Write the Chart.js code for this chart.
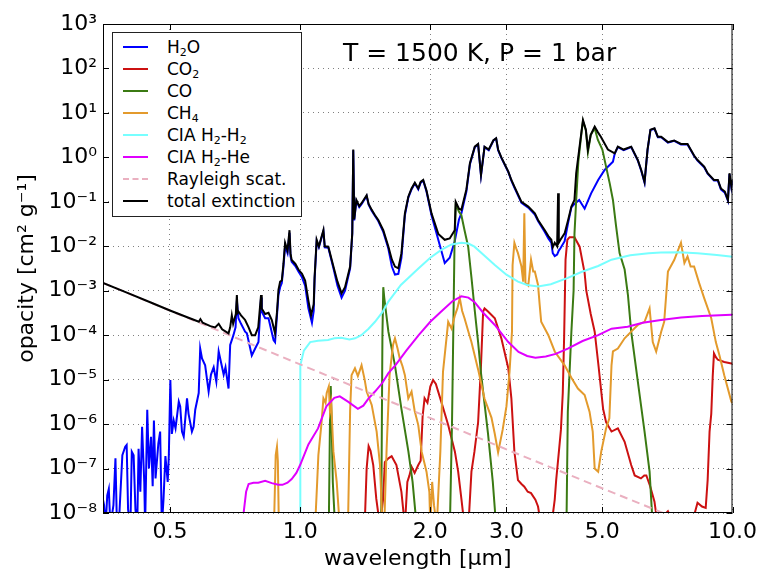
<!DOCTYPE html>
<html>
<head>
<meta charset="utf-8">
<script src="https://cdn.jsdelivr.net/npm/chart.js@4.4.1/dist/chart.umd.min.js"></script>
<style>
body { margin: 0; background: #fff; }
#wrap { position: relative; width: 763px; height: 573px; font-family: "DejaVu Sans", sans-serif; }
#legend { position: absolute; left: 112px; top: 32px; width: 190px; height: 185px; border: 1px solid #222; background: #fff; box-sizing: border-box; }
.row { position: absolute; left: 0; height: 22px; line-height: 22px; font-size: 17px; color: #000; }
.row i { position: absolute; left: 10px; top: 10px; width: 25px; height: 0; border-top: 2px solid; }
.row span { position: absolute; left: 54px; white-space: nowrap; }
sub { font-size: 11px; vertical-align: -3px; line-height: 0; }
#note { position: absolute; left: 343px; top: 38px; font-size: 25px; line-height: 30px; white-space: nowrap; color: #000; }
</style>
</head>
<body>
<div id="wrap">
  <canvas id="c" width="763" height="573"></canvas>
  <div id="legend">
    <div class="row" style="top:3px"><i style="border-color:#0000ff"></i><span>H<sub>2</sub>O</span></div>
    <div class="row" style="top:25px"><i style="border-color:#cc1111"></i><span>CO<sub>2</sub></span></div>
    <div class="row" style="top:47px"><i style="border-color:#3b7a13"></i><span>CO</span></div>
    <div class="row" style="top:69px"><i style="border-color:#e39a2c"></i><span>CH<sub>4</sub></span></div>
    <div class="row" style="top:91px"><i style="border-color:#77ffff"></i><span>CIA H<sub>2</sub>-H<sub>2</sub></span></div>
    <div class="row" style="top:113px"><i style="border-color:#e000ff"></i><span>CIA H<sub>2</sub>-He</span></div>
    <div class="row" style="top:135px"><i style="border-color:#eab0c0;border-top-style:dashed"></i><span>Rayleigh scat.</span></div>
    <div class="row" style="top:157px"><i style="border-color:#000"></i><span>total extinction</span></div>
  </div>
  <div id="note">T = 1500 K, P = 1 bar</div>
</div>
<script>
// wavelength [um], opacity [cm2/g]
var h2o = [[0.350,2e-8],[0.352,1.5e-8],[0.355,5e-9],[0.358,2.5e-8],[0.361,3.5e-8],[0.364,5e-9],[0.37,1.5e-8],[0.374,1.7e-7],[0.377,5e-9],[0.382,1e-8],[0.388,2e-7],[0.394,3.1e-7],[0.397,3.4e-7],[0.400,1.2e-8],[0.405,5e-9],[0.408,2.4e-7],[0.412,2e-7],[0.416,1.2e-8],[0.420,5e-9],[0.423,2.8e-7],[0.427,3e-8],[0.431,8.7e-7],[0.436,5e-8],[0.438,5e-9],[0.443,2.1e-6],[0.447,1e-7],[0.452,5.2e-7],[0.456,4e-8],[0.459,1.2e-6],[0.463,6e-8],[0.470,3.7e-7],[0.4745,6.8e-7],[0.4788,5e-9],[0.483,2e-8],[0.488,1.9e-7],[0.494,5e-8],[0.497,2e-7],[0.501,9.8e-6],[0.505,6e-7],[0.510,1.2e-6],[0.515,8e-7],[0.524,3.2e-6],[0.528,2.5e-6],[0.533,6.8e-7],[0.538,5.2e-7],[0.5475,3.8e-6],[0.552,1.7e-6],[0.562,6.8e-7],[0.567,8.7e-7],[0.572,2.1e-6],[0.5827,5e-6],[0.5873,5e-5],[0.593,3e-5],[0.603,2.1e-5],[0.6143,5.4e-6],[0.622,1.3e-5],[0.631,1.9e-5],[0.640,9e-6],[0.648,4.3e-5],[0.6655,1.3e-5],[0.672,1.9e-5],[0.683,6.3e-6],[0.689,6e-5],[0.701,1e-4],[0.709,1.5e-4],[0.714,6e-4],[0.720,2.4e-4],[0.730,1.8e-4],[0.746,1.2e-4],[0.753,1.1e-4],[0.773,3.5e-5],[0.787,5e-5],[0.801,7e-5],[0.812,7e-4],[0.815,3.4e-4],[0.83,2.4e-4],[0.845,2.4e-4],[0.868,7.8e-5],[0.875,7e-5],[0.884,2.8e-4],[0.891,8e-4],[0.899,1.2e-3],[0.907,1.5e-3],[0.915,3.5e-3],[0.923,1e-2],[0.935,7e-3],[0.945,2e-2],[0.95,6e-3],[0.956,4.5e-3],[0.975,3.6e-3],[0.991,2.7e-3],[1.01,2e-3],[1.027,1.3e-3],[1.045,4e-4],[1.065,1.9e-4],[1.075,3.5e-4],[1.08,1.8e-3],[1.092,1.3e-2],[1.105,9.5e-3],[1.132,2.2e-2],[1.14,9.5e-3],[1.162,9.3e-3],[1.194,3.2e-3],[1.22,1.3e-3],[1.247,7e-4],[1.27,1e-3],[1.305,3.2e-3],[1.32,1.9e-2],[1.327,1.45],[1.334,3.8e-2],[1.349,0.105],[1.37,0.076],[1.387,0.089],[1.425,0.135],[1.44,0.086],[1.464,0.063],[1.49,0.048],[1.516,0.037],[1.557,0.021],[1.599,9e-3],[1.63,3.5e-3],[1.657,2.3e-3],[1.687,2.4e-3],[1.715,5.5e-3],[1.747,5e-2],[1.779,0.125],[1.81,0.19],[1.842,0.26],[1.876,0.19],[1.9,0.27],[1.926,0.3],[1.96,0.17],[2.013,5e-2],[2.087,1.4e-2],[2.16,4.2e-3],[2.218,5.5e-3],[2.278,1.3e-2],[2.33,4e-2],[2.36,5.5e-2],[2.424,0.17],[2.47,0.7],[2.535,1.7],[2.58,1.95],[2.6,0.88],[2.62,0.39],[2.67,1.7],[2.73,1.45],[2.80,2.4],[2.84,2.65],[2.87,1.45],[2.92,0.97],[3.03,0.47],[3.08,0.3],[3.13,0.21],[3.25,0.095],[3.37,0.074],[3.49,0.052],[3.55,0.037],[3.68,0.021],[3.75,0.015],[3.81,0.012],[3.84,7e-3],[3.88,6e-3],[3.93,6.5e-3],[3.965,8e-3],[4.0,9e-3],[4.09,1.3e-2],[4.17,3.5e-2],[4.24,7.5e-2],[4.31,9e-2],[4.42,0.11],[4.55,0.07],[4.71,0.155],[4.89,0.31],[5.06,0.52],[5.29,0.8],[5.34,1.2],[5.43,1.7],[5.6,1.45],[5.83,1.7],[6.04,0.85],[6.15,0.5],[6.26,0.27],[6.36,1.45],[6.46,4.1],[6.6,4.4],[6.72,2.85],[6.84,2.85],[7.09,2.15],[7.33,2.35],[7.6,1.95],[7.87,1.95],[8.15,1.07],[8.3,0.85],[8.6,0.6],[8.76,0.43],[9.06,0.3],[9.25,0.3],[9.40,0.19],[9.6,0.16],[9.76,0.105],[9.84,0.42],[9.94,0.21],[10.0,0.3]];

var co2 = [[1.41,5e-9],[1.425,1e-7],[1.44,3.2e-7],[1.455,2.5e-7],[1.476,1.2e-7],[1.5,2.1e-8],[1.53,5e-9],[1.555,2e-8],[1.57,1.4e-7],[1.6,1.7e-7],[1.628,1.9e-7],[1.67,1.2e-7],[1.715,3e-8],[1.747,5e-9],[1.77,5e-8],[1.79,7e-8],[1.81,1.1e-7],[1.84,8e-8],[1.876,1.2e-7],[1.9,1.5e-7],[1.92,1.5e-6],[1.94,3.8e-6],[1.97,3e-6],[2.0,7e-6],[2.03,9.8e-6],[2.06,8e-6],[2.12,3.2e-6],[2.2,9.5e-7],[2.28,2.4e-7],[2.32,8.5e-8],[2.36,2.1e-8],[2.40,5e-9],[2.45,5e-9],[2.49,8.5e-8],[2.53,2.4e-7],[2.58,1.1e-6],[2.62,2.1e-5],[2.65,3.4e-4],[2.67,4e-4],[2.72,3.4e-4],[2.82,2.4e-4],[2.92,8.5e-5],[3.03,1.8e-5],[3.08,3.8e-6],[3.13,2.4e-7],[3.19,5.5e-8],[3.25,4.5e-8],[3.30,3.9e-8],[3.36,3e-8],[3.42,2.8e-8],[3.5,2e-8],[3.55,1.4e-8],[3.61,5e-9],[3.81,5e-9],[3.88,2e-8],[3.91,5.5e-8],[3.96,2e-7],[4.01,7.4e-7],[4.05,5e-6],[4.08,1e-4],[4.11,5e-3],[4.15,1.4e-2],[4.2,1.6e-2],[4.31,1.6e-2],[4.43,9.8e-3],[4.55,2.5e-3],[4.59,1e-3],[4.7,3e-4],[4.8,1.2e-4],[4.9,2e-5],[5.02,2.2e-6],[5.1,1.1e-6],[5.25,6.8e-7],[5.43,8e-7],[5.63,4e-7],[5.83,1.2e-7],[5.94,7e-8],[6.14,6e-8],[6.25,7e-8],[6.32,7e-8],[6.45,4e-8],[6.6,1.8e-8],[6.72,5e-9],[6.95,9e-9],[7.09,1.1e-8],[7.2,8e-9],[7.3,5e-9],[8.1,7e-9],[8.3,1.7e-8],[8.5,1.4e-8],[8.67,1.3e-8],[8.76,5.5e-8],[8.85,6.8e-7],[8.93,1.7e-6],[9.0,1.2e-5],[9.06,3.9e-5],[9.15,3.2e-5],[9.25,2.8e-5],[9.57,2.5e-5],[9.94,2.3e-5],[10,2.3e-5]];

var co = [[1.165,5e-9],[1.172,1e-6],[1.177,7.2e-6],[1.183,1e-6],[1.19,5e-8],[1.2,1e-8],[1.21,5e-9],[1.54,5e-9],[1.55,1e-4],[1.557,1.2e-3],[1.565,7e-4],[1.6,1.2e-4],[1.657,2.1e-5],[1.715,2.2e-6],[1.78,2.4e-7],[1.82,5e-8],[1.86,5e-9],[2.22,5e-9],[2.245,1e-6],[2.26,1e-4],[2.275,1e-2],[2.29,8.5e-2],[2.30,8e-2],[2.33,6e-2],[2.36,5e-2],[2.40,2.3e-2],[2.447,9.8e-3],[2.49,2e-3],[2.535,3.5e-4],[2.58,7e-5],[2.62,1.4e-5],[2.72,6e-7],[2.79,5e-8],[2.84,5e-9],[4.13,5e-9],[4.16,1.9e-6],[4.24,1.2e-4],[4.29,1e-3],[4.31,1.9e-2],[4.35,0.11],[4.4,0.8],[4.43,1.5],[4.48,4],[4.51,6.5],[4.55,5],[4.58,4],[4.63,1.3],[4.7,3.2],[4.8,4.5],[4.88,2.5],[5.0,1.5],[5.1,0.62],[5.2,0.26],[5.29,0.11],[5.38,2.8e-2],[5.48,7e-3],[5.63,3e-3],[5.73,8e-4],[5.83,1.2e-4],[6.04,9e-6],[6.26,6.8e-7],[6.43,8.5e-8],[6.54,5e-9]];

var ch4 = [[0.87,5e-9],[0.878,2e-7],[0.884,3.1e-7],[0.888,1.5e-7],[0.893,5e-9],[1.083,5e-9],[1.095,5e-8],[1.102,2e-7],[1.12,1e-6],[1.132,3.8e-6],[1.145,3e-6],[1.152,5e-6],[1.165,7e-6],[1.172,2e-6],[1.18,3e-6],[1.194,2.4e-7],[1.215,5e-8],[1.235,5e-9],[1.29,5e-9],[1.305,2e-6],[1.315,1.26e-5],[1.339,1.8e-5],[1.36,1.2e-5],[1.387,2.1e-5],[1.41,1e-5],[1.425,5.4e-6],[1.464,2.7e-6],[1.503,6.8e-7],[1.53,1.2e-7],[1.55,5e-9],[1.565,5e-9],[1.585,2.8e-7],[1.61,1.26e-5],[1.64,6e-5],[1.657,8.5e-5],[1.68,5e-5],[1.70,3e-5],[1.725,2e-5],[1.747,1.26e-5],[1.779,3.8e-6],[1.81,5.4e-6],[1.84,2e-6],[1.876,9.5e-7],[1.91,2.4e-7],[1.96,8.5e-8],[1.99,3e-8],[2.0,5e-9],[2.02,5e-8],[2.04,1.5e-8],[2.07,5e-9],[2.11,2.4e-7],[2.14,1.5e-5],[2.2,2e-4],[2.24,1.4e-4],[2.28,2.8e-4],[2.31,4e-4],[2.34,6.8e-4],[2.37,3.5e-4],[2.4,2.4e-4],[2.45,1.2e-4],[2.49,7e-5],[2.58,1.7e-5],[2.67,3.7e-6],[2.77,1.4e-6],[2.82,6e-7],[2.87,2.3e-7],[2.94,7.4e-7],[3.0,2.5e-6],[3.05,1.5e-5],[3.09,1.2e-4],[3.1,3.8e-3],[3.13,1.2e-2],[3.16,9e-3],[3.19,7e-3],[3.25,3.5e-3],[3.28,1.6e-3],[3.3,5.5e-2],[3.32,1.5e-3],[3.37,1.3e-3],[3.42,5e-3],[3.46,2.7e-3],[3.49,2.7e-3],[3.55,1.35e-3],[3.58,5e-4],[3.61,2e-4],[3.75,1e-4],[3.88,4.3e-5],[4.09,2.1e-5],[4.24,1.1e-5],[4.39,6.3e-6],[4.55,4.5e-6],[4.67,1.9e-6],[4.75,6.8e-7],[4.8,1e-7],[4.89,8.5e-8],[4.97,2.4e-7],[5.1,8e-7],[5.19,1.35e-6],[5.25,2.1e-5],[5.29,4.3e-5],[5.43,5e-5],[5.63,8.5e-5],[5.83,1.2e-4],[6.04,1.7e-4],[6.26,2e-4],[6.43,4e-4],[6.54,7e-5],[6.66,4.3e-5],[6.84,1.2e-4],[6.95,2e-4],[7.09,2.7e-3],[7.33,4.9e-3],[7.6,1.2e-2],[7.74,4.2e-3],[7.87,5.9e-3],[8.0,3.5e-3],[8.15,3.5e-3],[8.37,1.5e-3],[8.6,6.8e-4],[8.93,2.4e-4],[9.15,7e-5],[9.33,3.5e-5],[9.57,1.26e-5],[9.94,3.2e-6],[10,3e-6]];

var ciaH2H2 = [[1.0,5e-9],[1.001,2.1e-5],[1.02,4.5e-5],[1.055,7e-5],[1.1,7.5e-5],[1.16,7.8e-5],[1.2,8.5e-5],[1.245,8.7e-5],[1.3,8e-5],[1.34,8.5e-5],[1.385,1e-4],[1.44,1.4e-4],[1.49,2e-4],[1.55,3.3e-4],[1.6,5.7e-4],[1.71,1.35e-3],[1.88,3.2e-3],[2.0,5.5e-3],[2.12,8.3e-3],[2.24,1.1e-2],[2.36,1.2e-2],[2.45,1.15e-2],[2.53,9.8e-3],[2.65,6.5e-3],[2.82,3.8e-3],[3.0,2.3e-3],[3.19,1.6e-3],[3.35,1.35e-3],[3.55,1.25e-3],[3.8,1.4e-3],[4.16,1.95e-3],[4.5,2.7e-3],[4.89,3.6e-3],[5.25,5e-3],[5.8,6.3e-3],[6.4,7e-3],[6.83,7.2e-3],[7.5,7.3e-3],[8.3,7e-3],[9.2,6.4e-3],[10,5.8e-3]];

var ciaH2He = [[0.73,5e-9],[0.74,1e-8],[0.75,3e-8],[0.76,4.5e-8],[0.78,4.8e-8],[0.80,4.8e-8],[0.83,5.3e-8],[0.86,4.7e-8],[0.89,4.3e-8],[0.91,4.3e-8],[0.935,4.8e-8],[0.956,5.8e-8],[0.98,8e-8],[1.0,1.2e-7],[1.045,3.5e-7],[1.1,8e-7],[1.15,2.5e-6],[1.2,3.9e-6],[1.235,4.2e-6],[1.29,3.2e-6],[1.36,2.2e-6],[1.40,2.6e-6],[1.44,3.8e-6],[1.49,5.4e-6],[1.55,8.5e-6],[1.6,1.4e-5],[1.66,2.1e-5],[1.76,4.5e-5],[1.88,1e-4],[2.0,2e-4],[2.12,3.4e-4],[2.25,5.8e-4],[2.36,7.5e-4],[2.45,7e-4],[2.53,5.6e-4],[2.65,3.2e-4],[2.82,1.7e-4],[3.03,7e-5],[3.2,4.2e-5],[3.35,3.4e-5],[3.5,3.1e-5],[3.7,3.3e-5],[3.9,3.8e-5],[4.16,5e-5],[4.5,7.4e-5],[4.89,1e-4],[5.25,1.4e-4],[5.72,1.55e-4],[6.2,1.9e-4],[6.83,2.2e-4],[7.6,2.5e-4],[8.5,2.7e-4],[9.94,2.9e-4],[10,2.9e-4]];

var rayleigh = [[0.35,1.5e-3],[1.0,2.2e-5],[3.0,2.7e-7],[6.6,1.2e-8],[10,2.2e-9]];

var total = [[0.35,1.5e-3],[0.40,8.8e-4],[0.45,5.5e-4],[0.50,3.6e-4],[0.55,2.5e-4],[0.583,2.0e-4],[0.588,2.3e-4],[0.595,1.9e-4],[0.62,1.6e-4],[0.636,1.5e-4],[0.648,1.8e-4],[0.66,1.35e-4],[0.683,1.1e-4],[0.689,1.5e-4],[0.695,2.8e-4],[0.70,1.8e-4],[0.71,3e-4],[0.714,8e-4],[0.717,3.2e-4],[0.72,3.4e-4],[0.73,2.8e-4],[0.746,2.2e-4],[0.76,1.5e-4],[0.773,1e-4],[0.787,1e-4],[0.80,1.5e-4],[0.812,8e-4],[0.815,4e-4],[0.83,3e-4],[0.845,3.2e-4],[0.86,2.2e-4],[0.875,1.1e-4],[0.884,3.3e-4],[0.891,1.05e-3],[0.899,1.6e-3],[0.907,1.7e-3],[0.915,4e-3],[0.923,1.2e-2],[0.935,8e-3],[0.945,2.3e-2],[0.95,7e-3],[0.956,4.9e-3],[0.975,4e-3],[0.991,3e-3],[1.01,2.4e-3],[1.027,1.7e-3],[1.045,6e-4],[1.06,2.8e-4],[1.075,5e-4],[1.08,2e-3],[1.092,1.4e-2],[1.105,1e-2],[1.132,2.3e-2],[1.14,1e-2],[1.162,9.8e-3],[1.194,3.5e-3],[1.22,1.6e-3],[1.247,8.7e-4],[1.27,1.2e-3],[1.305,3.5e-3],[1.32,2e-2],[1.327,1.5],[1.334,4e-2],[1.349,0.11],[1.37,0.08],[1.387,9.3e-2],[1.425,0.14],[1.44,0.09],[1.464,6.6e-2],[1.49,5e-2],[1.516,3.9e-2],[1.557,2.3e-2],[1.599,1e-2],[1.63,5e-3],[1.657,3.5e-3],[1.687,3.2e-3],[1.715,6.9e-3],[1.747,5.5e-2],[1.779,0.13],[1.81,0.2],[1.842,0.27],[1.876,0.2],[1.9,0.28],[1.926,0.31],[1.96,0.18],[2.013,5.5e-2],[2.087,1.9e-2],[2.16,1.4e-2],[2.218,1.5e-2],[2.278,2.3e-2],[2.29,0.1],[2.33,7e-2],[2.36,6.6e-2],[2.424,0.19],[2.47,0.74],[2.535,1.74],[2.58,2.0],[2.6,0.9],[2.62,0.4],[2.67,1.74],[2.73,1.5],[2.80,2.45],[2.84,2.7],[2.87,1.5],[2.92,1.0],[3.03,0.48],[3.08,0.31],[3.13,0.22],[3.25,0.1],[3.37,7.8e-2],[3.49,5.5e-2],[3.55,3.9e-2],[3.68,2.3e-2],[3.75,1.7e-2],[3.81,1.4e-2],[3.84,9.5e-3],[3.88,1.2e-2],[3.93,1e-2],[3.95,0.155],[3.965,1.2e-2],[4.0,1.4e-2],[4.09,1.95e-2],[4.17,4e-2],[4.24,7.8e-2],[4.31,0.11],[4.35,0.44],[4.42,1.5],[4.51,6.9],[4.58,4.2],[4.63,1.5],[4.70,3.2],[4.80,4.9],[4.88,3.7],[4.96,2.9],[5.15,1.5],[5.34,1.23],[5.43,1.74],[5.6,1.5],[5.83,1.74],[6.04,0.87],[6.15,0.52],[6.26,0.28],[6.36,1.5],[6.46,4.2],[6.6,4.5],[6.72,2.9],[6.84,2.9],[7.09,2.2],[7.33,2.4],[7.6,2.0],[7.87,2.0],[8.15,1.1],[8.3,0.87],[8.6,0.62],[8.76,0.44],[9.06,0.31],[9.25,0.31],[9.40,0.2],[9.6,0.17],[9.76,0.11],[9.84,0.44],[9.94,0.22],[10.0,0.31]];

var xTicks = [0.5, 1, 2, 3, 5, 10];
var yTicks = [1e-8, 1e-7, 1e-6, 1e-5, 1e-4, 1e-3, 1e-2, 1e-1, 1, 1e1, 1e2, 1e3];

var supChars = {'-':'\u207b','0':'\u2070','1':'\u00b9','2':'\u00b2','3':'\u00b3','4':'\u2074','5':'\u2075','6':'\u2076','7':'\u2077','8':'\u2078','9':'\u2079'};
function powLabel(v) {
    var e = String(Math.round(Math.log10(v)));
    return '10' + e.split('').map(function (ch) { return supChars[ch]; }).join('');
}

function line(label, pts, color, width, dash) {
    return {
        label: label,
        data: pts.map(function (p) { return {x: p[0], y: p[1]}; }),
        borderColor: color,
        backgroundColor: color,
        borderWidth: width,
        borderDash: dash || [],
        pointRadius: 0,
        fill: false,
        tension: 0
    };
}

// inward ticks and the box round the plot
var frame = {
    id: 'frame',
    afterDatasetsDraw: function (chart) {
        var c = chart.ctx, a = chart.chartArea, x = chart.scales.x, y = chart.scales.y;
        c.save();
        c.strokeStyle = '#000';
        c.lineWidth = 1;
        c.beginPath();
        xTicks.forEach(function (v) {
            var p = Math.round(x.getPixelForValue(v)) + 0.5;
            c.moveTo(p, a.bottom); c.lineTo(p, a.bottom - 6);
            c.moveTo(p, a.top); c.lineTo(p, a.top + 6);
        });
        yTicks.forEach(function (v) {
            var p = Math.round(y.getPixelForValue(v)) + 0.5;
            c.moveTo(a.left, p); c.lineTo(a.left + 6, p);
            c.moveTo(a.right, p); c.lineTo(a.right - 6, p);
        });
        c.stroke();
        c.strokeRect(a.left + 0.5, a.top + 0.5, a.right - a.left - 1, a.bottom - a.top - 1);
        c.restore();
    }
};

Chart.defaults.font.family = "'DejaVu Sans', sans-serif";
Chart.defaults.color = '#000';

new Chart(document.getElementById('c'), {
    type: 'line',
    data: {
        datasets: [
            line('total extinction', total, '#000000', 2),
            line('Rayleigh scat.', rayleigh, '#eab0c0', 2, [8, 5]),
            line('CIA H2-He', ciaH2He, '#e000ff', 2),
            line('CIA H2-H2', ciaH2H2, '#77ffff', 2),
            line('CH4', ch4, '#e39a2c', 2),
            line('CO', co, '#3b7a13', 2),
            line('CO2', co2, '#cc1111', 2),
            line('H2O', h2o, '#0000ff', 2)
        ]
    },
    options: {
        responsive: false,
        animation: false,
        devicePixelRatio: 1,
        layout: { padding: { top: 24, right: 28, left: 0, bottom: 0 } },
        plugins: { legend: { display: false }, tooltip: { enabled: false } },
        scales: {
            x: {
                type: 'logarithmic',
                min: 0.35,
                max: 10,
                afterBuildTicks: function (s) { s.ticks = xTicks.map(function (v) { return {value: v}; }); },
                afterFit: function (s) { s.height = 60; },
                ticks: {
                    autoSkip: false,
                    maxRotation: 0,
                    padding: 6,
                    font: { size: 22 },
                    callback: function (v) { return v.toFixed(1); }
                },
                grid: { color: 'rgba(0,0,0,0.5)', lineWidth: 1, drawTicks: false },
                border: { display: false, dash: [1, 4] },
                title: { display: true, text: 'wavelength [\u03bcm]', font: { size: 22 }, padding: { top: 0, bottom: 1 } }
            },
            y: {
                type: 'logarithmic',
                min: 1e-8,
                max: 1e3,
                afterBuildTicks: function (s) { s.ticks = yTicks.map(function (v) { return {value: v}; }); },
                afterFit: function (s) { s.width = 103; },
                ticks: {
                    autoSkip: false,
                    padding: 6,
                    font: { size: 22 },
                    callback: function (v) { return powLabel(v); }
                },
                grid: { color: 'rgba(0,0,0,0.5)', lineWidth: 1, drawTicks: false },
                border: { display: false, dash: [1, 4] },
                title: { display: true, text: 'opacity [cm\u00b2 g\u207b\u00b9]', font: { size: 22 }, padding: { top: 14, bottom: 0 } }
            }
        }
    },
    plugins: [frame]
});
</script>
</body>
</html>
